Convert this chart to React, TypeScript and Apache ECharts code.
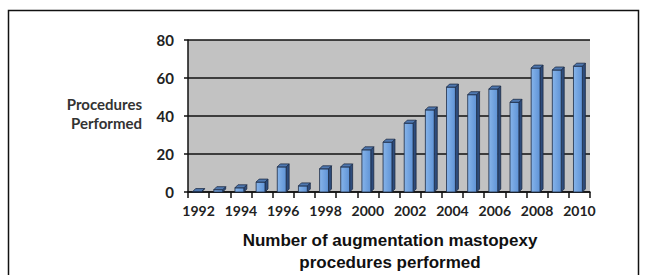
import React, { useEffect, useRef } from "react";
import * as echarts from "echarts";

const years = ["1992","1993","1994","1995","1996","1997","1998","1999","2000","2001","2002","2003","2004","2005","2006","2007","2008","2009","2010"];
const procedures = [1, 2, 3, 6, 14, 4, 13, 14, 23, 27, 37, 44, 56, 52, 55, 48, 66, 65, 67];
const yTicks = [0, 20, 40, 60, 80];

export default function App() {
  const ref = useRef<HTMLDivElement>(null);
  useEffect(() => {
    if (!ref.current) return;
    const chart = echarts.init(ref.current, undefined, { renderer: "svg" });
    const font = "Lato, 'Open Sans', sans-serif";
    chart.setOption({
      animation: false,
      backgroundColor: "#ffffff",
      graphic: [
        {
          type: "rect",
          shape: { x: 8.5, y: 10.5, width: 630, height: 300 },
          style: { fill: "none", stroke: "#111", lineWidth: 1.5 },
          silent: true,
          z: -1,
        },
        {
          type: "text",
          x: 142,
          y: 94,
          style: {
            text: "Procedures\nPerformed",
            font: `bold 15px ${font}`,
            fill: "#333",
            align: "right",
            verticalAlign: "top",
            lineHeight: 19,
          },
        },
        {
          type: "text",
          x: 390,
          y: 229,
          style: {
            text: "Number of augmentation mastopexy\nprocedures performed",
            font: "bold 17px 'Liberation Sans', Arial, sans-serif",
            fill: "#111",
            align: "center",
            verticalAlign: "top",
            lineHeight: 22,
          },
        },
      ],
      grid: {
        left: 188,
        top: 40,
        right: 55,
        bottom: 83,
        show: true,
        backgroundColor: "#c2c2c2",
        borderWidth: 0,
      },
      xAxis: {
        type: "category",
        data: years,
        boundaryGap: true,
        axisLine: { show: true, lineStyle: { color: "#111", width: 1.5 } },
        axisTick: { show: true, interval: 0, length: 6, lineStyle: { color: "#111", width: 1.5 } },
        axisLabel: {
          interval: 1,
          color: "#222",
          fontSize: 14,
          fontWeight: "bold",
          fontFamily: font,
          margin: 11,
        },
        splitLine: { show: false },
      },
      yAxis: {
        type: "value",
        min: yTicks[0],
        max: yTicks[yTicks.length - 1],
        interval: 20,
        axisLine: { show: true, lineStyle: { color: "#111", width: 1.5 } },
        axisTick: { show: true, length: 4, lineStyle: { color: "#111", width: 1.5 } },
        axisLabel: {
          color: "#222",
          fontSize: 15,
          fontWeight: "bold",
          fontFamily: font,
          margin: 14,
        },
        splitLine: { show: true, lineStyle: { color: "#111", width: 1.5 } },
      },
      series: [
        {
          type: "custom",
          data: procedures.map((v, i) => [i, v]),
          encode: { x: 0, y: 1 },
          renderItem: (params: any, api: any) => {
            const idx = api.value(0);
            const val = api.value(1);
            const top = api.coord([idx, val]);
            const base = api.coord([idx, 0]);
            const band = api.size([1, 0])[0];
            const d = 3;
            const w = band * 0.42;
            const x0 = top[0] - (w + d) / 2;
            const x1 = x0 + w;
            const yT = top[1] + d / 2;
            const yB = base[1];
            const edge = "#1c2b45";
            return {
              type: "group",
              children: [
                {
                  type: "polygon",
                  shape: { points: [[x1, yT], [x1 + d, yT - d], [x1 + d, yB - d], [x1, yB]] },
                  style: { fill: "#2e4c7c", stroke: edge, lineWidth: 0.8 },
                },
                {
                  type: "rect",
                  shape: { x: x0, y: yT, width: w, height: Math.max(0, yB - yT) },
                  style: {
                    fill: new echarts.graphic.LinearGradient(0, 0, 1, 0, [
                      { offset: 0, color: "#86b4ea" },
                      { offset: 1, color: "#5f93d6" },
                    ]),
                    stroke: edge,
                    lineWidth: 0.8,
                  },
                },
                {
                  type: "polygon",
                  shape: { points: [[x0, yT], [x0 + d, yT - d], [x1 + d, yT - d], [x1, yT]] },
                  style: { fill: "#4f78b0", stroke: edge, lineWidth: 0.8 },
                },
              ],
            };
          },
        },
      ],
    });
    return () => chart.dispose();
  }, []);
  return (
    <div
      ref={ref}
      style={{ position: "fixed", left: 0, top: 0, width: 645, height: 275 }}
    />
  );
}
